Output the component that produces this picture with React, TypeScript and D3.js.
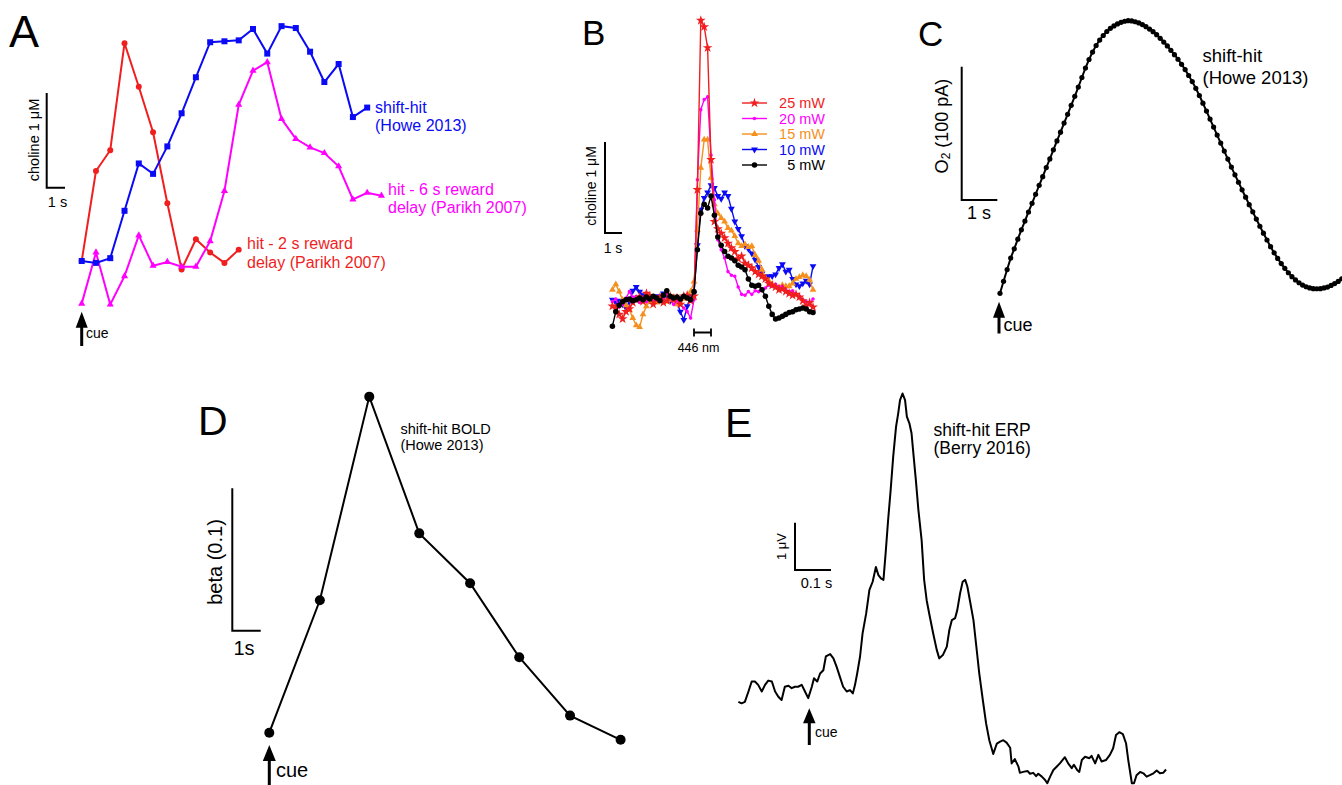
import React from 'react';
import * as d3 from 'd3';

const FONT = 'Liberation Sans, Arial, Helvetica, sans-serif';

const RED = '#f01e1e';
const MAGENTA = '#ff00ff';
const BLUE = '#0a0af5';
const ORANGE = '#f5901e';

// Panel A: choline, one sample every 0.78 s, uM above baseline
const aStep = 0.78;
const aShiftHit = [0, -0.02, 0.03, 0.53, 1.03, 0.92, 1.21, 1.56, 1.94, 2.31, 2.32, 2.33, 2.45, 2.19, 2.48, 2.46, 2.21, 1.89, 2.08, 1.52, 1.62];
const aHit2s = [0, 0.95, 1.17, 2.30, 1.84, 1.36, 0.61, -0.09, 0.23, 0.09, -0.02, 0.12];
const aHit6s = [-0.45, 0.09, -0.46, -0.16, 0.27, -0.05, -0.01, -0.06, -0.06, 0.21, 0.74, 1.65, 2.01, 2.10, 1.50, 1.29, 1.20, 1.14, 1.00, 0.65, 0.72, 0.69];

// Panel B: choline vs laser power, 0.2 s samples starting 4.8 s before light
const bStart = -4.8;
const bStep = 0.2;
const b25 = [-0.09, -0.11, -0.18, -0.23, -0.15, -0.12, -0.05, -0.02, 0.01, -0.04, 0.05, 0.02, -0.07, -0.02, 0.01, -0.05, -0.03, 0.02, -0.02, 0, -0.07, 0.02, 0.03, -0.03, 0.02, 1.19, 3.05, 2.98, 2.75, 1.52, 0.84, 0.76, 0.71, 0.66, 0.60, 0.55, 0.51, 0.43, 0.46, 0.38, 0.36, 0.33, 0.29, 0.26, 0.24, 0.21, 0.16, 0.14, 0.12, 0.09, 0.10, 0.07, 0.05, 0.03, 0.04, 0.01, -0.03, -0.09, -0.05, -0.10];
const b20 = [-0.04, -0.01, -0.10, -0.07, 0, 0.07, 0.01, 0.02, -0.05, -0.01, -0.04, 0.01, -0.03, -0.02, 0.02, -0.01, 0.05, 0, -0.07, -0.03, -0.07, -0.11, -0.15, -0.22, -0.02, 1.30, 2.07, 2.18, 2.21, 1.57, 1.08, 0.64, 0.53, 0.44, 0.29, 0.25, 0.24, 0.12, 0.04, 0.03, 0.07, 0.04, 0.08, 0.07, 0.10, 0.11, 0.14, 0.13, 0.15, 0.12, 0.13, 0.09, 0.07, 0.08, 0.04, 0.02, -0.02, -0.04, -0.07, -0.01];
const b15 = [0.09, 0.15, 0.07, -0.02, -0.08, -0.13, -0.22, -0.30, -0.32, -0.18, -0.09, -0.04, -0.02, -0.05, -0.03, 0, -0.04, -0.02, 0.01, -0.07, -0.05, -0.01, 0.02, 0.07, 0.18, 0.75, 1.43, 1.74, 1.74, 1.32, 1.03, 0.93, 0.88, 0.84, 0.77, 0.74, 0.68, 0.60, 0.57, 0.59, 0.56, 0.57, 0.47, 0.41, 0.31, 0.22, 0.19, 0.15, 0.13, 0.12, 0.14, 0.13, 0.13, 0.16, 0.21, 0.23, 0.25, 0.24, 0.20, 0.09];
const b10 = [-0.02, -0.05, -0.03, -0.07, -0.11, -0.04, 0.08, 0.12, 0.07, 0.03, 0.01, -0.02, 0, 0.02, -0.01, 0.05, 0.01, -0.03, 0, -0.05, -0.15, -0.24, -0.09, 0.02, 0.05, 0.58, 0.97, 1.10, 1.16, 1.24, 1.21, 1.12, 1.09, 1.16, 1.12, 0.98, 0.84, 0.76, 0.68, 0.57, 0.54, 0.49, 0.42, 0.34, 0.27, 0.23, 0.24, 0.24, 0.26, 0.33, 0.37, 0.29, 0.31, 0.21, 0.15, 0.13, 0.16, 0.19, 0.15, 0.35];
const b5 = [-0.31, -0.15, -0.08, -0.04, -0.02, -0.01, -0.03, -0.02, 0, -0.02, 0.01, -0.01, 0.02, 0, -0.03, 0.03, 0.08, 0.02, 0, 0.01, -0.01, 0.02, 0, -0.02, 0.07, 0.53, 0.93, 1.03, 0.99, 1.12, 0.91, 0.67, 0.58, 0.51, 0.46, 0.44, 0.41, 0.36, 0.34, 0.31, 0.21, 0.14, 0.13, 0.14, 0.09, 0.02, -0.09, -0.18, -0.23, -0.22, -0.20, -0.18, -0.16, -0.15, -0.13, -0.12, -0.11, -0.12, -0.15, -0.16];
const bLabels = ['25 mW', '20 mW', '15 mW', '10 mW', '5 mW'];

// Panel C: O2 current, 0.1 s samples, pA above cue
const cStep = 0.1;
const cO2 = [0, 9.0, 17.8, 26.4, 33.4, 40.6, 47.6, 54.2, 61.0, 67.5, 74.3, 81.0, 87.5, 94.3, 100.8, 107.6, 114.3, 120.9, 127.7, 134.3, 141.0, 147.8, 154.7, 161.9, 169.0, 175.4, 181.0, 185.9, 190.0, 193.4, 196.4, 198.8, 200.6, 202.1, 203.3, 204.1, 204.5, 204.3, 203.7, 202.8, 201.6, 200.0, 198.2, 196.3, 194.0, 191.3, 188.5, 185.6, 182.3, 179.0, 175.6, 171.8, 167.8, 163.4, 158.8, 153.8, 148.4, 142.6, 136.7, 130.7, 124.7, 118.7, 112.7, 106.7, 100.7, 94.7, 88.9, 83.3, 77.6, 72.1, 66.5, 61.1, 55.7, 50.3, 45.1, 40.0, 35.0, 30.4, 26.2, 22.3, 18.7, 15.4, 12.5, 10.0, 7.9, 6.2, 4.9, 4.0, 3.5, 3.4, 3.5, 4.0, 4.7, 5.9, 7.3, 8.9, 10.9];

// Panel D: BOLD beta
const dTime = [0, 1.78, 3.52, 5.28, 7.07, 8.80, 10.59, 12.37];
const dBeta = [0, 0.093, 0.236, 0.140, 0.105, 0.053, 0.012, -0.005];

// Panel E: ERP, ms vs uV
const eTime = [-197, -188, -179, -169, -160, -151, -142, -132, -123, -114, -104, -95, -86, -77, -68, -58, -49, -40, -31, -21, -12, -3, 7, 13, 22, 30, 39, 46, 58, 67, 76, 85, 94, 104, 113, 121, 127, 133, 141, 148, 158, 167, 176, 185, 192, 199, 206, 212, 219, 226, 233, 241, 247, 252, 259, 266, 271, 278, 284, 289, 296, 303, 312, 319, 326, 333, 344, 354, 361, 371, 382, 389, 396, 405, 411, 419, 426, 433, 439, 446, 456, 463, 472, 482, 491, 500, 511, 521, 530, 539, 548, 558, 562, 571, 581, 585, 594, 606, 613, 622, 630, 636, 646, 655, 661, 669, 678, 687, 696, 710, 719, 729, 735, 744, 750, 757, 766, 778, 784, 794, 803, 812, 824, 835, 844, 852, 861, 871, 880, 886, 896, 902, 909, 919, 928, 937, 946, 956, 965, 974, 983, 991];
const eVolt = [-0.04, -0.07, -0.04, 0.18, 0.39, 0.39, 0.32, 0.18, 0.32, 0.41, 0.39, 0.18, 0.07, 0, 0.28, 0.30, 0.25, 0.28, 0.28, 0.32, 0.18, 0.04, 0.28, 0.46, 0.39, 0.56, 0.63, 0.92, 0.97, 0.88, 0.70, 0.49, 0.28, 0.18, 0.21, 0.14, 0.32, 0.56, 0.92, 1.41, 1.83, 2.33, 2.50, 2.81, 2.64, 2.57, 2.54, 3.10, 3.81, 4.44, 5.14, 5.78, 6.06, 6.34, 6.48, 6.34, 5.99, 5.85, 5.64, 5.22, 4.65, 4.02, 3.38, 2.54, 2.11, 1.83, 1.41, 1.06, 0.88, 0.95, 1.13, 1.48, 1.69, 1.73, 1.90, 2.26, 2.50, 2.54, 2.40, 2.11, 1.69, 1.20, 0.57, 0, -0.49, -0.85, -1.14, -0.92, -0.88, -0.85, -0.90, -1.01, -1.34, -1.25, -1.41, -1.54, -1.52, -1.50, -1.56, -1.54, -1.61, -1.56, -1.62, -1.69, -1.76, -1.62, -1.48, -1.41, -1.34, -1.21, -1.34, -1.44, -1.37, -1.48, -1.52, -1.27, -1.20, -1.23, -1.18, -1.34, -1.16, -1.30, -1.27, -1.16, -1.02, -0.74, -0.68, -0.72, -0.92, -1.27, -1.76, -1.76, -1.59, -1.52, -1.55, -1.62, -1.59, -1.55, -1.49, -1.55, -1.54, -1.47];

const sym = (type: d3.SymbolType, size: number) => d3.symbol().type(type).size(size)() as string;

function Txt({ x, y, size, children, anchor = 'start', color = '#000', rotate = false }: any) {
  return (
    <text
      transform={rotate ? `translate(${x},${y}) rotate(-90)` : undefined}
      x={rotate ? 0 : x}
      y={rotate ? 0 : y}
      fontSize={size}
      fill={color}
      textAnchor={anchor}
      dominantBaseline="central"
      fontFamily={FONT}
    >
      {children}
    </text>
  );
}

function Letter({ x, y, size, children }: any) {
  return <text x={x} y={y} fontSize={size} fontFamily={FONT}>{children}</text>;
}

function Cue({ x, tip, base, w = 12, h = 16 }: any) {
  return (
    <g>
      <line x1={x} x2={x} y1={tip + h - 2} y2={base} stroke="#000" strokeWidth={3} />
      <path d={`M${x},${tip}L${x + w / 2},${tip + h}L${x - w / 2},${tip + h}Z`} fill="#000" />
    </g>
  );
}

function ScaleBar({ x, y, w, h }: any) {
  return <path d={`M${x},${y - h}V${y}H${x + w}`} fill="none" stroke="#000" strokeWidth={2} />;
}

function PanelA() {
  const x = d3.scaleLinear().domain([0, 1]).range([81.7, 100]);
  const y = d3.scaleLinear().domain([0, 1]).range([261, 166.3]);
  const line = d3.line<number>().x((_, i) => x(i * aStep)).y(d => y(d));
  const series = [
    { values: aHit2s, color: RED, shape: sym(d3.symbolCircle, 28) },
    { values: aHit6s, color: MAGENTA, shape: sym(d3.symbolTriangle, 22) },
    { values: aShiftHit, color: BLUE, shape: sym(d3.symbolSquare, 36) },
  ];
  return (
    <g>
      <Letter x={9} y={47} size={45}>A</Letter>
      {series.map((s, k) => (
        <g key={k}>
          <path d={line(s.values) as string} fill="none" stroke={s.color} strokeWidth={2} />
          {s.values.map((v, i) => (
            <path key={i} d={s.shape} transform={`translate(${x(i * aStep)},${y(v)})`} fill={s.color} />
          ))}
        </g>
      ))}
      <ScaleBar x={46.7} y={187.7} w={x(1) - x(0)} h={y(0) - y(1)} />
      <Txt x={33.5} y={140} size={14.5} anchor="middle" rotate>choline 1 μM</Txt>
      <Txt x={57.5} y={202} size={14.5} anchor="middle">1 s</Txt>
      <Cue x={x(0)} tip={311.7} base={346} />
      <Txt x={86} y={333} size={14}>cue</Txt>
      <Txt x={375} y={107.5} size={16} color={BLUE}>shift-hit</Txt>
      <Txt x={375} y={125.5} size={16} color={BLUE}>(Howe 2013)</Txt>
      <Txt x={388} y={189.5} size={16} color={MAGENTA}>hit - 6 s reward</Txt>
      <Txt x={388} y={207} size={16} color={MAGENTA}>delay (Parikh 2007)</Txt>
      <Txt x={247} y={243.5} size={16} color={RED}>hit - 2 s reward</Txt>
      <Txt x={247} y={262} size={16} color={RED}>delay (Parikh 2007)</Txt>
    </g>
  );
}

function PanelB() {
  const x = d3.scaleLinear().domain([0, 1]).range([694, 711]);
  const y = d3.scaleLinear().domain([0, 1]).range([298, 207]);
  const t = (i: number) => bStart + i * bStep;
  const line = d3.line<number>().x((_, i) => x(t(i))).y(d => y(d));
  const tri = sym(d3.symbolTriangle, 20);
  const series = [
    { label: bLabels[0], values: b25, color: RED, shape: sym(d3.symbolStar, 30), rot: 0 },
    { label: bLabels[1], values: b20, color: MAGENTA, shape: sym(d3.symbolCircle, 10), rot: 0 },
    { label: bLabels[2], values: b15, color: ORANGE, shape: tri, rot: 0 },
    { label: bLabels[3], values: b10, color: BLUE, shape: tri, rot: 180 },
    { label: bLabels[4], values: b5, color: '#000', shape: sym(d3.symbolCircle, 24), rot: 0 },
  ];
  const drawOrder = [3, 2, 1, 0, 4];
  const legendY = [103, 118.5, 134, 149.5, 165];
  return (
    <g>
      <Letter x={582} y={45} size={35}>B</Letter>
      {drawOrder.map(k => {
        const s = series[k];
        return (
          <g key={k}>
            <path d={line(s.values) as string} fill="none" stroke={s.color} strokeWidth={1.4} />
            {s.values.map((v, i) => (
              <path key={i} d={s.shape} transform={`translate(${x(t(i))},${y(v)}) rotate(${s.rot})`} fill={s.color} />
            ))}
          </g>
        );
      })}
      {series.map((s, k) => (
        <g key={k}>
          <line x1={742} x2={767} y1={legendY[k]} y2={legendY[k]} stroke={s.color} strokeWidth={1.4} />
          <path d={s.shape} transform={`translate(754.5,${legendY[k]}) rotate(${s.rot})`} fill={s.color} />
          <Txt x={825} y={legendY[k]} size={14.5} anchor="end" color={s.color}>{s.label}</Txt>
        </g>
      ))}
      <ScaleBar x={605} y={233} w={x(1) - x(0)} h={y(0) - y(1)} />
      <Txt x={590.5} y={186} size={14} anchor="middle" rotate>choline 1 μM</Txt>
      <Txt x={613} y={247.5} size={14} anchor="middle">1 s</Txt>
      <path d={`M${x(0)},${328.5}V${336.5}M${x(0)},${332.5}H${x(1)}M${x(1)},${328.5}V${336.5}`} fill="none" stroke="#000" strokeWidth={1.8} />
      <Txt x={698.5} y={347.5} size={12.5} anchor="middle">446 nm</Txt>
    </g>
  );
}

function PanelC() {
  const x = d3.scaleLinear().domain([0, 1]).range([1000, 1035.6]);
  const y = d3.scaleLinear().domain([0, 100]).range([293.3, 160]);
  const line = d3.line<number>().x((_, i) => x(i * cStep)).y(d => y(d));
  return (
    <g>
      <Letter x={918} y={46} size={35}>C</Letter>
      <path d={line(cO2) as string} fill="none" stroke="#000" strokeWidth={2} />
      {cO2.map((v, i) => (
        <circle key={i} cx={x(i * cStep)} cy={y(v)} r={2.6} fill="#000" />
      ))}
      <ScaleBar x={961.7} y={200} w={x(1) - x(0)} h={y(0) - y(100)} />
      <text transform="translate(941.5,126) rotate(-90)" fontSize={18} fontFamily={FONT} textAnchor="middle" dominantBaseline="central">
        <tspan>O</tspan>
        <tspan fontSize={12} dy={4}>2</tspan>
        <tspan dy={-4}> (100 pA)</tspan>
      </text>
      <Txt x={979} y={213} size={18} anchor="middle">1 s</Txt>
      <Cue x={x(0) - 1} tip={301.7} base={333.5} />
      <Txt x={1003.5} y={325} size={18}>cue</Txt>
      <Txt x={1202.5} y={55} size={18.5}>shift-hit</Txt>
      <Txt x={1202.5} y={77.5} size={18.5}>(Howe 2013)</Txt>
    </g>
  );
}

function PanelD() {
  const x = d3.scaleLinear().domain([0, 1]).range([269.3, 297.7]);
  const y = d3.scaleLinear().domain([0, 0.1]).range([732.7, 590.3]);
  const line = d3.line<number>().x((_, i) => x(dTime[i])).y(d => y(d));
  return (
    <g>
      <Letter x={198} y={435} size={41}>D</Letter>
      <path d={line(dBeta) as string} fill="none" stroke="#000" strokeWidth={2} />
      {dBeta.map((v, i) => (
        <circle key={i} cx={x(dTime[i])} cy={y(v)} r={5} fill="#000" />
      ))}
      <ScaleBar x={232.3} y={630.7} w={x(1) - x(0)} h={y(0) - y(0.1)} />
      <Txt x={215} y={562} size={20} anchor="middle" rotate>beta (0.1)</Txt>
      <Txt x={244} y={648} size={20} anchor="middle">1s</Txt>
      <Cue x={x(0)} tip={745} base={785} w={13} />
      <Txt x={276} y={770} size={20}>cue</Txt>
      <Txt x={400.5} y={428.5} size={14.5}>shift-hit BOLD</Txt>
      <Txt x={400.5} y={445} size={14.5}>(Howe 2013)</Txt>
    </g>
  );
}

function PanelE() {
  const x = d3.scaleLinear().domain([0, 100]).range([809.3, 845.3]);
  const y = d3.scaleLinear().domain([0, 1]).range([700, 652.7]);
  const line = d3.line<number>().x((_, i) => x(eTime[i])).y(d => y(d));
  return (
    <g>
      <Letter x={725} y={437} size={41}>E</Letter>
      <path d={line(eVolt) as string} fill="none" stroke="#000" strokeWidth={2} strokeLinejoin="round" />
      <ScaleBar x={795} y={570} w={x(100) - x(0)} h={y(0) - y(1)} />
      <Txt x={781.5} y={546.5} size={13} anchor="middle" rotate>1 μV</Txt>
      <Txt x={816.5} y={582.5} size={14.5} anchor="middle">0.1 s</Txt>
      <Cue x={x(0)} tip={708.3} base={745} w={12.5} h={15} />
      <Txt x={815} y={731.5} size={14}>cue</Txt>
      <Txt x={933.5} y={430} size={17.5}>shift-hit ERP</Txt>
      <Txt x={933.5} y={448} size={17.5}>(Berry 2016)</Txt>
    </g>
  );
}

export default function App() {
  return (
    <svg width={1342} height={785} style={{ position: 'absolute', left: 0, top: 0, background: '#fff' }}>
      <rect width={1342} height={785} fill="#fff" />
      <PanelA />
      <PanelB />
      <PanelC />
      <PanelD />
      <PanelE />
    </svg>
  );
}
